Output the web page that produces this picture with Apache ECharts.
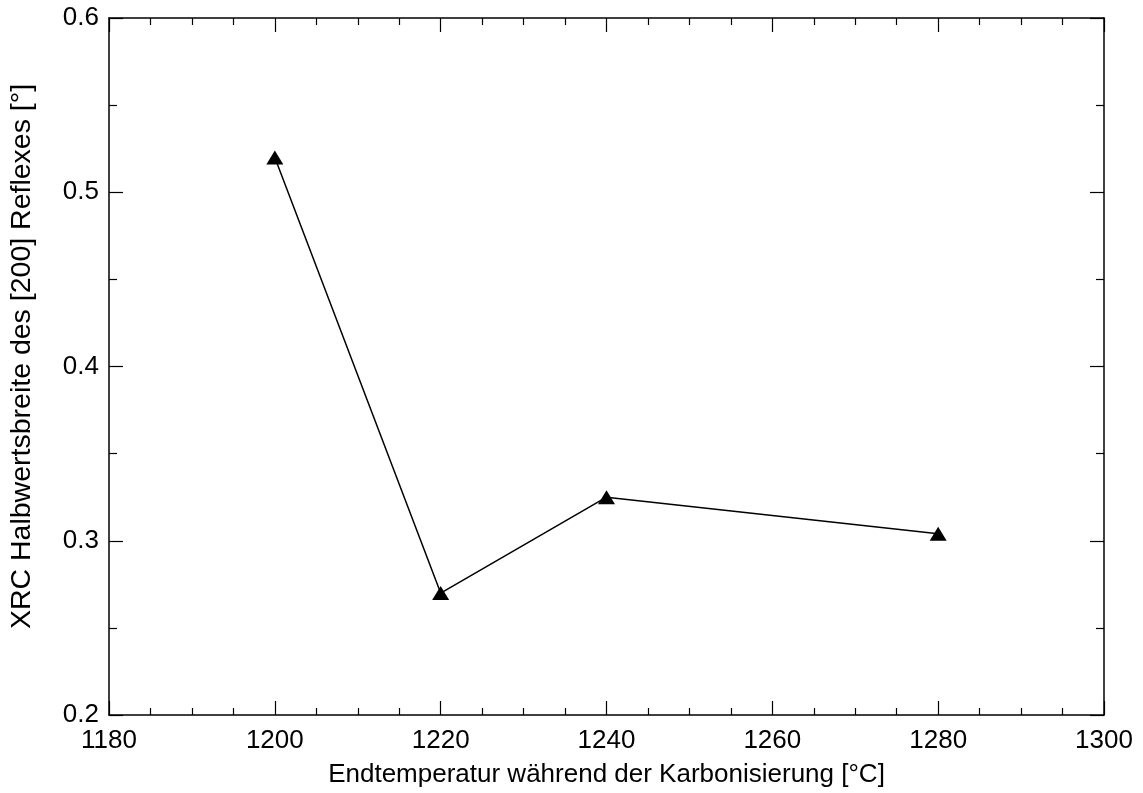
<!DOCTYPE html>
<html>
<head>
<meta charset="utf-8">
<style>
  html, body { margin: 0; padding: 0; background: #fff; }
  #chart { width: 1143px; height: 793px; }
</style>
<script src="https://cdn.jsdelivr.net/npm/echarts@6/dist/echarts.min.js"></script>
</head>
<body>
<div id="chart"></div>
<script>
// Final carbonisation temperature vs. XRC half-width of the [200] reflex
const temperatures = [1200, 1220, 1240, 1280];
const halfWidths = [0.520, 0.270, 0.325, 0.304];

const xTitle = 'Endtemperatur während der Karbonisierung [°C]';
const yTitle = 'XRC Halbwertsbreite des [200] Reflexes [°]';

const FONT = '"Liberation Sans", Arial, sans-serif';
const INK = '#000';

function axisCommon(extra) {
  return Object.assign({
    axisLine: { show: true, onZero: false, lineStyle: { color: INK, width: 1.5 } },
    axisTick: { show: true, inside: true, length: 14, lineStyle: { color: INK, width: 1.2 } },
    splitLine: { show: false },
    minorSplitLine: { show: false }
  }, extra);
}

const chart = echarts.init(document.getElementById('chart'), null, { renderer: 'canvas' });

chart.setOption({
  animation: false,
  backgroundColor: '#fff',
  grid: { left: 108, right: 39, top: 18, bottom: 77, containLabel: false },
  xAxis: [
    axisCommon({
      type: 'value', position: 'bottom', min: 1180, max: 1300, interval: 20,
      minorTick: { show: true, splitNumber: 4, length: 7, lineStyle: { color: INK, width: 1.2 } },
      axisLabel: { color: INK, fontFamily: FONT, fontSize: 26, margin: 13,
                   formatter: v => String(v) },
      name: xTitle, nameLocation: 'middle', nameGap: 47,
      nameTextStyle: { color: INK, fontFamily: FONT, fontSize: 26 }
    }),
    axisCommon({
      type: 'value', position: 'top', min: 1180, max: 1300, interval: 20,
      minorTick: { show: true, splitNumber: 4, length: 7, lineStyle: { color: INK, width: 1.2 } },
      axisLabel: { show: false }
    })
  ],
  yAxis: [
    axisCommon({
      type: 'value', position: 'left', min: 0.2, max: 0.6, interval: 0.1,
      minorTick: { show: true, splitNumber: 2, length: 8, lineStyle: { color: INK, width: 1.2 } },
      axisLabel: { color: INK, fontFamily: FONT, fontSize: 26, margin: 10,
                   formatter: v => v.toFixed(1) },
      name: yTitle, nameLocation: 'middle', nameGap: 72, nameRotate: 90,
      nameTextStyle: { color: INK, fontFamily: FONT, fontSize: 28.5, padding: [0, 0, 0, 20] }
    }),
    axisCommon({
      type: 'value', position: 'right', min: 0.2, max: 0.6, interval: 0.1,
      minorTick: { show: true, splitNumber: 2, length: 8, lineStyle: { color: INK, width: 1.2 } },
      axisLabel: { show: false }
    })
  ],
  series: [{
    type: 'line',
    xAxisIndex: 0,
    yAxisIndex: 0,
    data: temperatures.map((t, i) => [t, halfWidths[i]]),
    symbol: 'triangle',
    symbolSize: [17, 14],
    showAllSymbol: true,
    lineStyle: { color: INK, width: 1.5 },
    itemStyle: { color: INK, borderWidth: 0 }
  }]
});
</script>
</body>
</html>
